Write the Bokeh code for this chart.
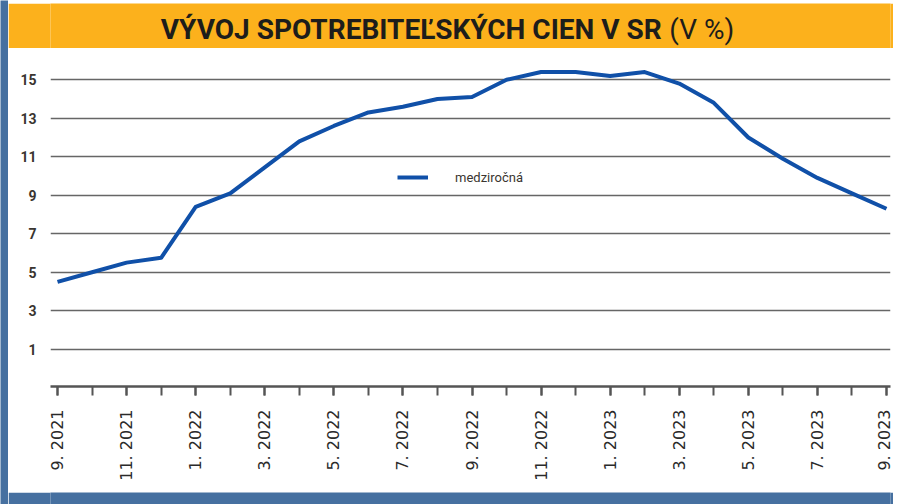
import math
from bokeh.plotting import figure
from bokeh.models import FixedTicker, Legend, LegendItem, Range1d
from bokeh.layouts import column, row
from bokeh.core.properties import value
from bokeh.embed import file_html
from bokeh.resources import INLINE

months = ["9. 2021", "10. 2021", "11. 2021", "12. 2021",
          "1. 2022", "2. 2022", "3. 2022", "4. 2022", "5. 2022", "6. 2022",
          "7. 2022", "8. 2022", "9. 2022", "10. 2022", "11. 2022", "12. 2022",
          "1. 2023", "2. 2023", "3. 2023", "4. 2023", "5. 2023", "6. 2023",
          "7. 2023", "8. 2023", "9. 2023"]
cpi = [4.5, 5.0, 5.5, 5.75, 8.4, 9.1, 10.45, 11.8, 12.6, 13.3, 13.6, 14.0,
       14.1, 15.0, 15.4, 15.4, 15.2, 15.4, 14.8, 13.8, 12.0, 10.9, 9.9, 9.1, 8.3]
y_ticks = [1, 3, 5, 7, 9, 11, 13, 15]
title_bold = "VÝVOJ SPOTREBITEĽSKÝCH CIEN V SR"
title_rest = "(V %)"
series_name = "medziročná"

idx = list(range(len(months)))
major_idx = idx[::2]

FONT = "Roboto"
ORANGE = "#FCB11C"
FRAME_BLUE = "#4670A0"


def blank(w, h, color):
    f = figure(width=w, height=h, output_backend="svg", toolbar_location=None, min_border=0,
               x_range=Range1d(0, 1), y_range=Range1d(0, 1))
    f.axis.visible = False
    f.grid.visible = False
    f.outline_line_color = None
    f.background_fill_color = color
    f.border_fill_color = color
    return f


# --- title band ---
t = figure(width=885, height=45, x_range=Range1d(0, 885), y_range=Range1d(0, 45),
           output_backend="svg", toolbar_location=None, min_border=0)
t.axis.visible = False
t.grid.visible = False
t.outline_line_color = None
t.background_fill_color = ORANGE
t.border_fill_color = ORANGE
t.text(x=[644], y=[19], text=[title_bold], text_font=value(FONT), text_font_style="bold",
       text_font_size="28px", text_align="right", text_baseline="middle", text_color="#1d1d1b")
t.text(x=[652], y=[19], text=[title_rest], text_font=value(FONT), text_font_style="normal",
       text_font_size="28px", text_align="left", text_baseline="middle", text_color="#1d1d1b")

# --- main chart ---
p = figure(width=885, height=444, x_range=Range1d(-0.203, 24.116), y_range=Range1d(-0.935, 16.52),
           output_backend="svg", toolbar_location=None,
           min_border_left=42, min_border_right=3, min_border_top=2, min_border_bottom=106)
p.outline_line_color = None
p.background_fill_color = "#FFFFFF"
p.border_fill_color = "#FFFFFF"

r = p.line(idx, cpi, line_width=4, line_color="#1050A8", line_join="round")

p.xgrid.visible = False
p.ygrid.ticker = FixedTicker(ticks=y_ticks)
p.ygrid.grid_line_color = "#666666"
p.ygrid.grid_line_width = 1.6

p.yaxis.ticker = FixedTicker(ticks=y_ticks)
p.yaxis.axis_line_color = None
p.yaxis.major_tick_line_color = None
p.yaxis.minor_tick_line_color = None
p.yaxis.major_label_standoff = 8
p.yaxis.major_label_text_font = FONT
p.yaxis.major_label_text_font_size = "14px"
p.yaxis.major_label_text_font_style = "bold"
p.yaxis.major_label_text_color = "#3a3530"

p.xaxis.ticker = FixedTicker(ticks=major_idx, minor_ticks=idx)
p.xaxis.major_label_overrides = {i: months[i] for i in major_idx}
p.xaxis.major_label_orientation = math.pi / 2
p.xaxis.axis_line_color = "#555555"
p.xaxis.axis_line_width = 2.5
p.xaxis.major_tick_line_color = "#555555"
p.xaxis.minor_tick_line_color = "#555555"
p.xaxis.major_tick_line_width = 2
p.xaxis.minor_tick_line_width = 2
p.xaxis.major_tick_out = 9
p.xaxis.major_tick_in = 0
p.xaxis.minor_tick_out = 9
p.xaxis.minor_tick_in = 0
p.xaxis.major_label_standoff = 14
p.xaxis.major_label_text_font = "DejaVu Sans"
p.xaxis.major_label_text_font_size = "16px"
p.xaxis.major_label_text_color = "#2a2a2a"

legend = Legend(items=[LegendItem(label=series_name, renderers=[r])], location=(347, 199),
                glyph_width=31, glyph_height=20, label_standoff=27, padding=0, margin=0,
                border_line_color=None, background_fill_alpha=0,
                label_text_font=FONT, label_text_font_size="13px", label_text_color="#3a3530")
p.add_layout(legend)

center = column(blank(885, 3, FRAME_BLUE), t, p, blank(885, 12, FRAME_BLUE))
layout = row(blank(8, 504, FRAME_BLUE), center, blank(7, 504, "#FFFFFF"))
open("out.html", "w").write(file_html(layout, INLINE))
